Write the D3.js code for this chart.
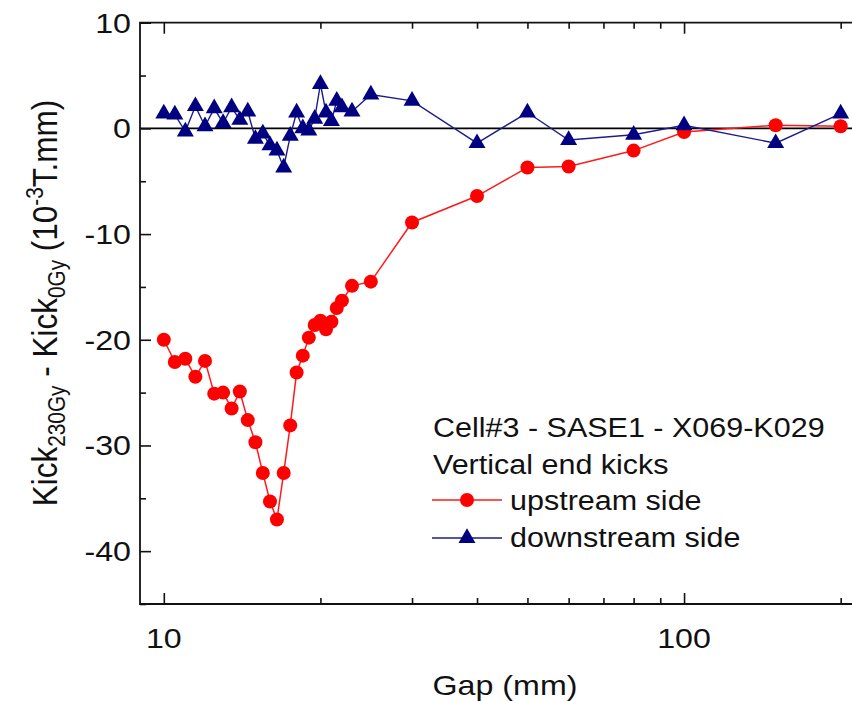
<!DOCTYPE html>
<html>
<head>
<meta charset="utf-8">
<script src="https://cdn.jsdelivr.net/npm/d3@7"></script>
<style>
  html, body { margin: 0; padding: 0; background: #fff; }
  svg { display: block; }
  text { font-family: "Liberation Sans", Arial, sans-serif; fill: #111; }
</style>
</head>
<body>
<div id="chart"></div>
<script>
// ---- data ----
const gaps = [10,10.5,11,11.5,12,12.5,13,13.5,14,14.5,15,15.5,16,16.5,17,17.5,18,18.5,19,19.5,20,20.5,21,21.5,22,23,25,30,40,50,60,80,100,150,200];
const upstream = [-20.0,-22.1,-21.8,-23.5,-22.0,-25.1,-25.0,-26.5,-24.9,-27.6,-29.7,-32.6,-35.3,-37.0,-32.6,-28.1,-23.1,-21.5,-19.8,-18.6,-18.2,-19.0,-18.3,-17.0,-16.3,-14.9,-14.5,-8.9,-6.4,-3.7,-3.6,-2.1,-0.35,0.3,0.2];
const downstream = [1.4,1.3,-0.3,2.1,0.2,1.9,0.5,2.0,0.8,1.6,-1.0,-0.5,-1.6,-2.1,-3.7,-0.7,1.5,0.0,-0.2,0.9,4.2,1.5,0.7,2.6,2.0,1.6,3.2,2.6,-1.4,1.5,-1.1,-0.6,0.3,-1.4,1.4];
const xMajorTicks = [10, 100];
const xMinorTicks = [20,30,40,50,60,70,80,90,200];
const yMajorTicks = [-40,-30,-20,-10,0,10];
const yMinorTicks = [-45,-35,-25,-15,-5,5];
const legendTitle = ["Cell#3 - SASE1 - X069-K029", "Vertical end kicks"];
const seriesNames = ["upstream side", "downstream side"];

// ---- layout ----
const W = 852, H = 701;
const mLeft = 140, mRight = 857, mTop = 22.7, mBottom = 604;
const SX = 1.13; // horizontal stretch of glyphs seen in the reference
const FS = 27;
const FT = 28.5;

const svg = d3.select("#chart").append("svg").attr("width", W).attr("height", H);
svg.append("rect").attr("width", W).attr("height", H).attr("fill", "#fff");

const x = d3.scaleLog().domain([9, 215]).range([mLeft, mRight]);
const y = d3.scaleLinear().domain([-45, 10]).range([mBottom, mTop]);

const plot = svg.append("g");

// zero line
plot.append("line")
  .attr("x1", mLeft).attr("x2", mRight)
  .attr("y1", y(0)).attr("y2", y(0))
  .attr("stroke", "#000").attr("stroke-width", 1.6);

// axes (ticks inward)
function styleAxis(g) {
  g.select(".domain").remove();
  g.selectAll(".tick line").attr("stroke", "#111").attr("stroke-width", 1.6);
  g.selectAll(".tick text").remove();
}
svg.append("g").attr("transform", `translate(0,${mBottom})`)
  .call(d3.axisTop(x).tickValues(xMajorTicks).tickSize(11)).call(styleAxis);
svg.append("g").attr("transform", `translate(0,${mBottom})`)
  .call(d3.axisTop(x).tickValues(xMinorTicks).tickSize(6)).call(styleAxis);
svg.append("g").attr("transform", `translate(0,${mTop})`)
  .call(d3.axisBottom(x).tickValues(xMajorTicks).tickSize(11)).call(styleAxis);
svg.append("g").attr("transform", `translate(0,${mTop})`)
  .call(d3.axisBottom(x).tickValues(xMinorTicks).tickSize(6)).call(styleAxis);
svg.append("g").attr("transform", `translate(${mLeft},0)`)
  .call(d3.axisRight(y).tickValues(yMajorTicks).tickSize(11)).call(styleAxis);
svg.append("g").attr("transform", `translate(${mLeft},0)`)
  .call(d3.axisRight(y).tickValues(yMinorTicks).tickSize(6)).call(styleAxis);

// frame
svg.append("path")
  .attr("d", `M${mRight},${mTop}H${mLeft}V${mBottom}H${mRight}`)
  .attr("fill", "none").attr("stroke", "#111").attr("stroke-width", 1.8);

// tick labels
const stretchText = (sel, px, py, anchor) =>
  sel.attr("transform", `translate(${px},${py}) scale(${SX},1)`).attr("text-anchor", anchor);

xMajorTicks.forEach(v => {
  svg.append("text").text(d3.format("d")(v)).attr("font-size", FT)
    .call(stretchText, x(v), 648, "middle");
});
yMajorTicks.forEach(v => {
  svg.append("text").text(v).attr("font-size", FT).attr("dy", "0.35em")
    .call(stretchText, 131, y(v), "end");
});

// x label
svg.append("text").text("Gap (mm)").attr("font-size", 28.5)
  .call(stretchText, 505, 695, "middle");

// y label with sub/superscripts
const FY = 31.5;
const yl = svg.append("text")
  .attr("font-size", FY)
  .attr("text-anchor", "middle")
  .attr("transform", `translate(57,303) scale(${SX},1) rotate(-90)`);
yl.append("tspan").text("Kick");
yl.append("tspan").text("230Gy").attr("font-size", FY*0.66).attr("dy", 7);
yl.append("tspan").text(" - Kick").attr("dy", -7);
yl.append("tspan").text("0Gy").attr("font-size", FY*0.66).attr("dy", 7);
yl.append("tspan").text(" (10").attr("dy", -7);
yl.append("tspan").text("-3").attr("font-size", FY*0.66).attr("dy", -12);
yl.append("tspan").text("T.mm)").attr("dy", 12);

// series lines
const line = d3.line().x(d => x(d[0])).y(d => y(d[1]));
const upData = gaps.map((g, i) => [g, upstream[i]]);
const downData = gaps.map((g, i) => [g, downstream[i]]);

plot.append("path").datum(upData).attr("d", line)
  .attr("fill", "none").attr("stroke", "#ff1a1a").attr("stroke-width", 1.5);
plot.append("g").selectAll("circle").data(upData).join("circle")
  .attr("cx", d => x(d[0])).attr("cy", d => y(d[1])).attr("r", 7)
  .attr("fill", "#ff0000");

const tri = d3.symbol().type(d3.symbolTriangle).size(125);
plot.append("path").datum(downData).attr("d", line)
  .attr("fill", "none").attr("stroke", "#1c1c8a").attr("stroke-width", 1.4);
plot.append("g").selectAll("path").data(downData).join("path")
  .attr("d", tri)
  .attr("transform", d => `translate(${x(d[0])},${y(d[1])})`)
  .attr("fill", "#000080");

// legend
svg.append("text").text(legendTitle[0]).attr("font-size", FS).call(stretchText, 433, 437, "start");
svg.append("text").text(legendTitle[1]).attr("font-size", FS).call(stretchText, 433, 474, "start");

const leg = [
  {name: seriesNames[0], color: "#ff1a1a", fill: "#ff0000", shape: "circle", ly: 500, ty: 510},
  {name: seriesNames[1], color: "#1c1c8a", fill: "#000080", shape: "tri", ly: 538, ty: 547}
];
leg.forEach(l => {
  svg.append("line").attr("x1", 432).attr("x2", 502).attr("y1", l.ly).attr("y2", l.ly)
    .attr("stroke", l.color).attr("stroke-width", 1.5);
  if (l.shape === "circle") {
    svg.append("circle").attr("cx", 467).attr("cy", l.ly).attr("r", 7).attr("fill", l.fill);
  } else {
    svg.append("path").attr("d", tri).attr("transform", `translate(467,${l.ly})`).attr("fill", l.fill);
  }
  svg.append("text").text(l.name).attr("font-size", FS).call(stretchText, 510, l.ty, "start");
});
</script>
</body>
</html>
